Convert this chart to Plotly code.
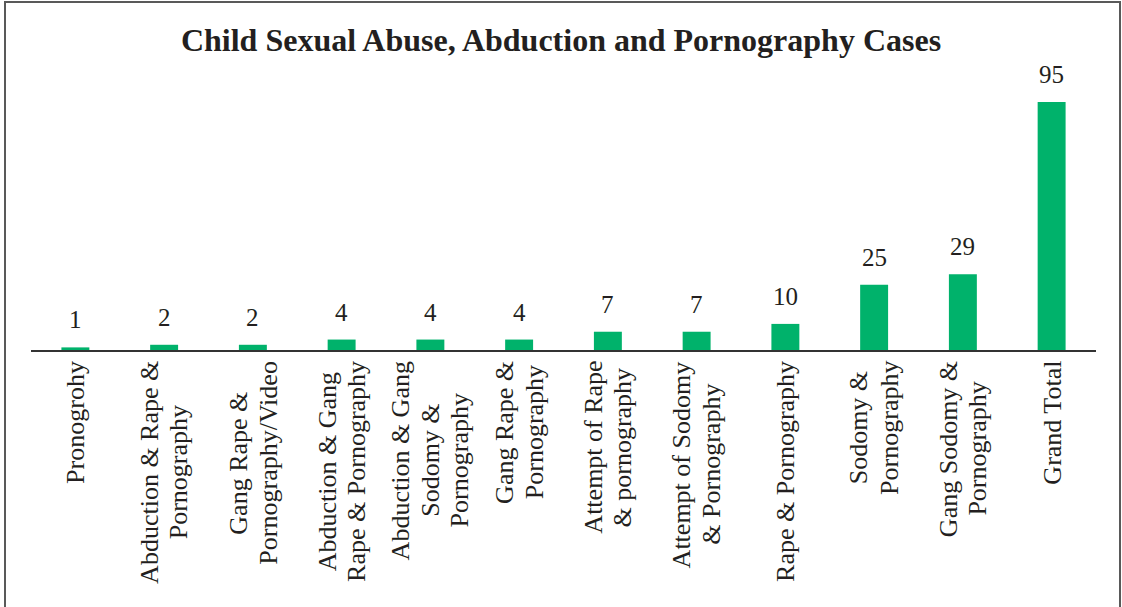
import plotly.graph_objects as go

categories = [
    "Pronogrohy",
    "Abduction & Rape & Pornography",
    "Gang Rape & Pornography/Video",
    "Abduction & Gang Rape & Pornography",
    "Abduction & Gang Sodomy & Pornography",
    "Gang Rape & Pornography",
    "Attempt of Rape & pornography",
    "Attempt of Sodomy & Pornography",
    "Rape & Pornography",
    "Sodomy & Pornography",
    "Gang Sodomy & Pornography",
    "Grand Total",
]
tick_labels = [
    "Pronogrohy",
    "Abduction & Rape &<br>Pornography",
    "Gang Rape &<br>Pornography/Video",
    "Abduction & Gang<br>Rape & Pornography",
    "Abduction & Gang<br>Sodomy &<br>Pornography",
    "Gang Rape &<br>Pornography",
    "Attempt of Rape<br>& pornography",
    "Attempt of Sodomy<br>& Pornography",
    "Rape & Pornography",
    "Sodomy &<br>Pornography",
    "Gang Sodomy &<br>Pornography",
    "Grand Total",
]
cases = [1, 2, 2, 4, 4, 4, 7, 7, 10, 25, 29, 95]

title_text = "Child Sexual Abuse, Abduction and Pornography Cases"

FONT = "Liberation Serif, Times New Roman, serif"
GREEN = "#00B26B"
TEXT = "#231f20"
LABEL_SIZE = 26
LINE_STEP = 29.5

# Times / Liberation Serif advance widths (per 1000 em) used to centre label lines
_W = {"A": 722, "G": 722, "P": 556, "R": 667, "S": 556, "T": 611, "V": 722,
      "a": 444, "b": 500, "c": 444, "d": 500, "e": 444, "f": 333, "g": 500,
      "h": 500, "i": 278, "l": 278, "m": 778, "n": 500, "o": 500, "p": 500,
      "r": 333, "s": 389, "t": 278, "u": 500, "y": 500, "&": 778, "/": 278,
      " ": 250}


def text_len(s, size):
    return sum(_W.get(ch, 500) for ch in s) / 1000.0 * size


fig = go.Figure()
fig.add_trace(go.Bar(
    x=categories,
    y=cases,
    marker=dict(color=GREEN, line=dict(width=0)),
    hoverinfo="x+y",
))

annotations = []
for c, v in zip(categories, cases):
    annotations.append(dict(
        x=c, y=v, xref="x", yref="y",
        text=str(v), showarrow=False,
        yanchor="bottom", yshift=12,
        font=dict(family=FONT, size=25, color=TEXT),
    ))

label_top = -9 / 290.0
for c, lab in zip(categories, tick_labels):
    lines = lab.split("<br>")
    n = len(lines)
    lens = [text_len(s, LABEL_SIZE) for s in lines]
    L = max(lens)
    for j, (s, ln) in enumerate(zip(lines, lens)):
        annotations.append(dict(
            x=c, y=label_top, xref="x", yref="paper",
            text=s, showarrow=False, textangle=-90,
            yanchor="top", xanchor="center",
            xshift=(j - (n - 1) / 2.0) * LINE_STEP,
            yshift=-(L - ln) / 2.0,
            font=dict(family=FONT, size=LABEL_SIZE, color=TEXT),
        ))

fig.update_layout(
    width=1122, height=607,
    margin=dict(l=31, r=26, t=60, b=257),
    paper_bgcolor="white", plot_bgcolor="white",
    bargap=0.685,
    showlegend=False,
    title=dict(
        text="<b>" + title_text + "</b>",
        x=0.5, xref="container", xanchor="center",
        y=1 - 40 / 607, yref="container", yanchor="middle",
        font=dict(family=FONT, size=32, color=TEXT),
    ),
    xaxis=dict(
        type="category", range=[-0.5, 11.5],
        showticklabels=False, ticks="",
        showline=True, linecolor="#333333", linewidth=2,
        showgrid=False, zeroline=False, fixedrange=True,
    ),
    yaxis=dict(
        range=[0, 111.1], visible=False,
        showgrid=False, zeroline=False, fixedrange=True,
    ),
    annotations=annotations,
    shapes=[dict(
        type="rect", xref="paper", yref="paper",
        x0=(5 - 31) / 1065, x1=(1120 - 31) / 1065,
        y0=-1.0, y1=(350 - 2) / 290,
        line=dict(color="#595959", width=2),
        fillcolor="rgba(0,0,0,0)", layer="below",
    )],
)

fig.write_html(
    "out.html",
    config={"displayModeBar": False},
    post_script="document.body.style.margin='0';document.body.style.overflow='hidden';",
)
